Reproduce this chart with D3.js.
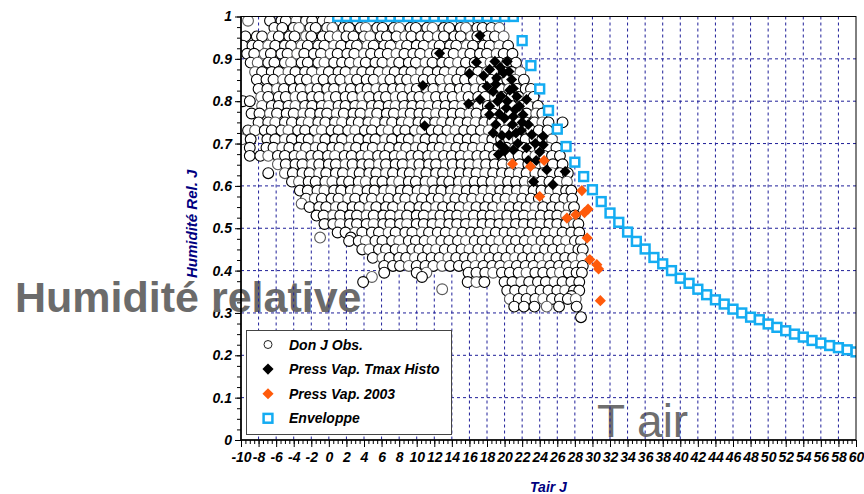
<!DOCTYPE html>
<html>
<head>
<meta charset="utf-8">
<script src="https://cdn.jsdelivr.net/npm/d3@7"></script>
<style>
  body { margin: 0; background: #fff; }
  svg { display: block; }
  .tick text { font-family: "Liberation Sans", Arial, sans-serif; font-weight: bold; font-style: italic; font-size: 14px; fill: #000; }
</style>
</head>
<body>
<div id="chart"></div>
<script>
// Don J Obs. : rows of [humidity, temperatures]
var obsRows = [
  [0.99, [-9.2,-6.7,-5.4,-4.9,-3.7,-2.6,-1.9,-0.7,0.1,1.3,1.9,3.2,3.9,4.7,5.9,6.6,7.9,8.5,9.8,10.4,11.7,12.2,13.6,14.3,15.1,16.4,17.0,18.3,19.0]],
  [0.973, [-6.2,-5.3,-4.0,-3.4,-2.1,-1.5,-0.2,0.4,1.7,2.3,3.6,4.2,5.5,6.1,7.4,8.0,9.3,9.9,11.2,11.8,13.1,13.7,15.0,15.6,16.9,17.5,18.5,19.4]],
  [0.953, [-9.5,-8.2,-7.6,-6.4,-5.7,-4.5,-3.9,-2.6,-2.0,-0.7,0.1,1.0,2.0,2.8,4.0,4.7,5.9,6.6,7.7,8.7,9.4,10.5,11.3,12.4,13.1,14.3,15.0,16.2,16.9,18.1,18.9,19.9]],
  [0.931, [-9.8,-8.7,-8.0,-6.9,-6.1,-5.0,-4.3,-3.1,-2.4,-1.2,-0.5,0.6,1.4,2.5,3.2,4.4,5.1,6.3,7.0,8.2,8.9,10.0,10.8,11.9,12.6,13.8,14.5,15.7,16.4,17.6,18.3,19.4,20.4]],
  [0.912, [-9.3,-8.5,-7.3,-6.6,-5.4,-4.7,-3.6,-2.8,-1.7,-0.9,0.2,1.0,2.1,2.9,4.0,4.8,5.8,6.7,7.7,8.6,9.6,10.4,11.5,12.3,13.4,14.2,15.3,16.1,17.2,18.0,19.1,19.9,20.9]],
  [0.891, [-8.9,-8.1,-6.9,-6.2,-5.0,-4.3,-3.1,-2.4,-1.2,-0.5,0.6,1.5,2.4,3.4,4.2,5.3,6.1,7.2,8.0,9.1,9.9,11.0,11.8,12.9,13.7,14.7,15.6,16.6,17.5,18.4,19.4,20.3,21.3]],
  [0.869, [-8.4,-7.6,-6.5,-5.7,-4.6,-3.8,-2.7,-1.9,-0.8,0.0,1.1,1.9,3.0,3.8,4.8,5.7,6.7,7.5,8.6,9.4,10.5,11.3,12.4,13.2,14.2,15.1,16.1,17.0,18.0,18.9,19.9,20.8,21.8]],
  [0.851, [-8.2,-7.1,-6.3,-5.2,-4.4,-3.3,-2.5,-1.4,-0.6,0.5,1.3,2.4,3.2,4.3,5.1,6.2,7.0,8.1,8.9,9.9,10.8,11.8,12.7,13.7,14.6,15.5,16.5,17.4,18.4,19.3,20.3,21.2,22.2]],
  [0.829, [-8.0,-7.0,-5.9,-5.1,-4.0,-3.2,-2.1,-1.3,-0.2,0.6,1.7,2.5,3.6,4.4,5.4,6.3,7.3,8.2,9.2,10.0,11.1,11.9,13.0,13.8,14.9,15.7,16.7,17.6,18.6,19.5,20.5,21.4,22.4,23.0]],
  [0.81, [-7.7,-6.9,-5.7,-4.9,-3.8,-3.0,-1.9,-1.1,0.0,0.8,1.9,2.7,3.8,4.6,5.7,6.5,7.6,8.4,9.5,10.3,11.3,12.2,13.2,14.1,15.1,15.9,17.0,17.8,18.9,19.7,20.8,21.6,22.7,23.3]],
  [0.80, [-9.8,-9.0]],
  [0.789, [-7.6,-6.5,-5.7,-4.6,-3.8,-2.7,-1.9,-0.8,0.0,1.1,1.9,3.0,3.8,4.9,5.7,6.8,7.6,8.6,9.5,10.5,11.4,12.4,13.3,14.3,15.2,16.2,17.0,18.1,18.9,20.0,20.8,21.9,22.7,23.8]],
  [0.771, [-8.8,-7.9,-6.7,-5.9,-4.8,-4.0,-2.9,-2.1,-1.0,-0.2,0.9,1.7,2.8,3.6,4.7,5.5,6.6,7.4,8.5,9.3,10.3,11.2,12.2,13.1,14.1,15.0,16.0,16.8,17.9,18.7,19.8,20.6,21.7,22.5,23.6,24.3]],
  [0.75, [-8.0,-6.9,-6.1,-5.0,-4.2,-3.1,-2.3,-1.2,-0.4,0.7,1.5,2.6,3.4,4.5,5.3,6.4,7.2,8.3,9.1,10.2,11.0,12.1,12.9,13.9,14.8,15.8,16.7,17.7,18.6,19.6,20.5,21.5,22.4,23.4,24.3,25.0,26.6]],
  [0.731, [-9.2,-8.4,-7.3,-6.5,-5.4,-4.6,-3.5,-2.7,-1.6,-0.8,0.3,1.1,2.2,3.0,4.1,4.9,6.0,6.8,7.9,8.7,9.8,10.6,11.7,12.5,13.5,14.4,15.4,16.3,17.3,18.2,19.2,20.1,21.1,22.0,23.0,23.9,24.9]],
  [0.71, [-9.9,-8.9,-7.0,-6.1,-5.0,-4.2,-3.1,-2.3,-1.2,-0.4,0.7,1.5,2.6,3.4,4.5,5.3,6.4,7.2,8.3,9.1,10.2,11.0,12.0,12.9,13.9,14.8,15.8,16.7,17.7,18.6,19.6,20.5,21.5,22.4,23.4,24.3,25.4]],
  [0.69, [-9.0,-7.1,-6.3,-5.3,-4.5,-3.4,-2.6,-1.5,-0.7,0.4,1.2,2.3,3.1,4.2,5.0,6.1,6.9,8.0,8.8,9.9,10.7,11.8,12.6,13.6,14.5,15.5,16.4,17.4,18.3,19.3,20.2,21.2,22.1,23.1,24.0,25.0,25.9]],
  [0.671, [-9.0,-7.8,-6.9,-5.8,-5.0,-3.9,-3.1,-2.0,-1.2,-0.1,0.7,1.8,2.6,3.7,4.5,5.6,6.4,7.5,8.3,9.4,10.2,11.3,12.1,13.1,14.0,15.0,15.9,16.9,17.8,18.8,19.7,20.7,21.6,22.6,23.5,24.5,25.4,26.3]],
  [0.651, [-5.8,-4.9,-3.8,-3.0,-1.9,-1.1,0.0,0.8,1.9,2.7,3.8,4.6,5.7,6.5,7.6,8.4,9.5,10.3,11.4,12.2,13.3,14.1,15.1,16.0,17.0,17.9,18.9,19.8,20.8,21.7,22.7,23.6,24.6,25.5,26.6]],
  [0.63, [-6.9,-5.0,-4.1,-3.0,-2.2,-1.1,-0.3,0.8,1.6,2.7,3.5,4.6,5.4,6.5,7.3,8.4,9.2,10.3,11.1,12.2,13.0,14.1,14.9,15.9,16.8,17.8,18.7,19.7,20.6,21.6,22.5,23.5,24.4,25.4,26.3,27.2]],
  [0.61, [-4.2,-3.4,-2.3,-1.5,-0.4,0.4,1.5,2.3,3.4,4.2,5.3,6.1,7.2,8.0,9.1,9.9,11.0,11.8,12.9,13.7,14.8,15.6,16.6,17.5,18.5,19.4,20.4,21.3,22.3,23.2,24.2,25.1,26.1,27.1]],
  [0.589, [-3.3,-2.4,-1.3,-0.5,0.6,1.4,2.5,3.3,4.4,5.2,6.3,7.1,8.2,9.0,10.1,10.9,12.0,12.8,13.9,14.7,15.7,16.6,17.6,18.5,19.5,20.4,21.4,22.3,23.3,24.2,25.2,26.1,27.0,27.6]],
  [0.57, [-2.6,-1.6,-0.8,0.3,1.1,2.2,3.0,4.1,4.9,6.0,6.8,7.9,8.7,9.8,10.6,11.7,12.5,13.6,14.4,15.4,16.3,17.3,18.2,19.2,20.1,21.1,22.0,23.0,23.9,24.9,25.8,26.8,27.7]],
  [0.558, [-3.1]],
  [0.55, [-2.2,-1.1,-0.3,0.8,1.6,2.7,3.5,4.6,5.4,6.5,7.3,8.4,9.2,10.3,11.1,12.2,13.0,14.0,14.9,15.9,16.8,17.8,18.7,19.7,20.6,21.6,22.5,23.5,24.4,25.4,26.3,27.3,27.9]],
  [0.53, [-1.4,-0.6,0.5,1.3,2.4,3.2,4.3,5.1,6.2,7.0,8.1,8.9,10.0,10.8,11.9,12.7,13.7,14.6,15.6,16.5,17.5,18.4,19.4,20.3,21.3,22.2,23.2,24.1,25.1,26.0,27.0,28.0]],
  [0.51, [-0.5,0.5,1.3,2.4,3.2,4.3,5.1,6.2,7.0,8.1,8.9,10.0,10.8,11.8,12.7,13.7,14.6,15.6,16.5,17.5,18.4,19.4,20.3,21.3,22.2,23.2,24.1,25.1,26.0,27.0,27.9,28.4]],
  [0.49, [1.0,1.9,3.0,3.8,4.9,5.7,6.8,7.6,8.7,9.5,10.6,11.4,12.4,13.3,14.3,15.2,16.2,17.1,18.1,19.0,20.0,20.9,21.9,22.8,23.8,24.7,25.7,26.6,27.6,28.5]],
  [0.478, [-1.0,2.5]],
  [0.47, [2.3,3.4,4.2,5.3,6.1,7.2,8.0,9.1,9.9,10.9,11.8,12.8,13.7,14.7,15.6,16.6,17.5,18.5,19.4,20.4,21.3,22.3,23.2,24.2,25.1,26.1,27.0,28.0,28.7]],
  [0.45, [3.8,4.6,5.7,6.5,7.6,8.4,9.5,10.3,11.3,12.2,13.2,14.1,15.1,16.0,17.0,17.9,18.9,19.8,20.8,21.7,22.7,23.6,24.6,25.5,26.5,27.4,28.4,28.9]],
  [0.43, [5.0,6.1,6.9,8.0,8.8,9.8,10.7,11.7,12.6,13.6,14.5,15.5,16.4,17.4,18.3,19.3,20.2,21.2,22.1,23.1,24.0,25.0,25.9,26.9,27.8,28.8]],
  [0.411, [6.3,7.3,8.1,9.1,10.0,11.0,11.9,12.9,13.8,14.8,15.7,16.7,17.6,18.6,19.5,20.5,21.4,22.4,23.3,24.3,25.2,26.2,27.1,28.1,28.9]],
  [0.395, [6.3,10.0,11.1,15.9,16.8,17.8,18.7,19.7,20.6,21.6,22.5,23.5,24.4,25.4,26.3,27.3,28.2,28.8]],
  [0.385, [4.9,10.6]],
  [0.373, [3.9,15.8,16.8,17.7,20.0,20.9,21.9,22.8,23.8,24.7,25.7,26.6,27.6,28.5]],
  [0.356, [12.9]],
  [0.353, [20.3,21.2,22.2,23.1,24.1,25.0,26.0,26.9,27.9,28.5]],
  [0.34, [27.6]],
  [0.333, [20.6,21.6,22.5,23.5,24.4,25.4,26.3,27.2,28.1]],
  [0.315, [21.1,22.2,23.4,24.8,26.2,28.2]],
  [0.29, [28.7]]
];

// Press Vap. Tmax Histo
var histoT = [17.2,12.6,16.8,18.9,20.3,18.3,16.0,19.1,20.8,10.7,18.0,18.7,21.4,17.2,22.5,15.9,18.3,20.2,21.7,18.3,20.0,21.0,22.1,22.7,10.9,18.7,19.7,21.9,23.1,24.4,19.5,20.0,22.5,24.4,19.3,20.0,24.8,26.9,23.3,25.5,19.6,20.6,19.2,20.9,21.5,23.6,17.6,19.9,
              19.5,20.5,21.0,19.0,20.3,21.2,19.4,22.0,19.0,20.5,21.3,23.5,21.0,22.7,24.0];
var histoH = [0.955,0.913,0.892,0.894,0.894,0.875,0.865,0.855,0.851,0.837,0.835,0.823,0.811,0.804,0.804,0.794,0.788,0.784,0.788,0.768,0.760,0.764,0.768,0.745,0.742,0.725,0.719,0.731,0.721,0.717,0.697,0.690,0.690,0.697,0.674,0.682,0.638,0.634,0.610,0.603,0.812,0.826,0.800,0.745,0.700,0.660,0.860,0.867,
              0.880,0.870,0.830,0.840,0.800,0.780,0.770,0.750,0.745,0.720,0.725,0.700,0.685,0.660,0.680];

// Press Vap. 2003
var vap03T = [20.9,22.95,24.5,24.0,28.8,27.1,28.1,29.1,29.5,29.4,29.7,30.5,30.7,30.9];
var vap03H = [0.652,0.646,0.660,0.575,0.589,0.524,0.532,0.537,0.545,0.477,0.426,0.414,0.404,0.329];

// Enveloppe
var envT = [1,2,3,4,5,6,7,8,9,10,11,12,13,14,15,16,17,18,19,20,21,22,23,24,25,26,27,28,29,30,31,32,33,34,35,36,37,38,39,40,41,42,43,44,45,46,47,48,49,50,51,52,53,54,55,56,57,58,59,60];
var envH = [1,1,1,1,1,1,1,1,1,1,1,1,1,1,1,1,1,1,1,1,1,0.943,0.884,0.829,0.778,0.734,0.693,0.656,0.622,0.591,0.563,0.536,0.514,0.491,0.469,0.451,0.431,0.416,0.400,0.382,0.370,0.356,0.343,0.331,0.321,0.309,0.300,0.290,0.284,0.274,0.266,0.258,0.250,0.243,0.235,0.229,0.223,0.218,0.213,0.208];

var xTickValues = [-10,-8,-6,-4,-2,0,2,4,6,8,10,12,14,16,18,20,22,24,26,28,30,32,34,36,38,40,42,44,46,48,50,52,54,56,58,60];
var yTickValues = [0,0.1,0.2,0.3,0.4,0.5,0.6,0.7,0.8,0.9,1];
var yTickLabels = ["0","0.1","0.2","0.3","0.4","0.5","0.6","0.7","0.8","0.9","1"];

var legendItems = ["Don J Obs.", "Press Vap. Tmax Histo", "Press Vap. 2003", "Enveloppe"];

var W = 864, H = 494,
    pLeft = 241, pRight = 856, pTop = 16.5, pBottom = 440;
var font = '"Liberation Sans", Arial, sans-serif';

var svg = d3.select("#chart").append("svg")
    .attr("width", W)
    .attr("height", H);

var x = d3.scaleLinear().domain([-10, 60]).range([pLeft, pRight]);
var y = d3.scaleLinear().domain([0, 1]).range([pBottom, pTop]);

svg.append("defs").append("clipPath").attr("id", "plot")
  .append("rect")
    .attr("x", pLeft).attr("y", pTop)
    .attr("width", pRight - pLeft).attr("height", pBottom - pTop);

// axes with labels
svg.append("g")
    .attr("transform", "translate(0," + pBottom + ")")
    .call(d3.axisBottom(x).tickValues(xTickValues).tickSize(7).tickPadding(5).tickSizeOuter(0)
      .tickFormat(function(d) { return String(d); }))
    .call(function(g) { g.select(".domain").remove(); });

svg.append("g")
    .attr("transform", "translate(0," + pBottom + ")")
    .call(d3.axisBottom(x).tickValues(d3.range(-10, 60.01, 0.5)).tickSize(4).tickFormat("").tickSizeOuter(0))
    .call(function(g) { g.select(".domain").remove(); });

svg.append("g")
    .attr("transform", "translate(" + pLeft + ",0)")
    .call(d3.axisLeft(y).tickValues(yTickValues).tickSize(6).tickPadding(3).tickSizeOuter(0)
      .tickFormat(function(d, i) { return yTickLabels[i]; }))
    .call(function(g) { g.select(".domain").remove(); });

svg.append("g")
    .attr("transform", "translate(" + pLeft + ",0)")
    .call(d3.axisLeft(y).tickValues(d3.range(0, 1.001, 0.025)).tickSize(4).tickFormat("").tickSizeOuter(0))
    .call(function(g) { g.select(".domain").remove(); });

// big grey overlay texts
svg.append("text")
    .attr("x", 15).attr("y", 312)
    .attr("font-family", font).attr("font-weight", "bold")
    .attr("font-size", 43).attr("fill", "#6b6b6b")
    .text("Humidité relative");

svg.append("text")
    .attr("x", 597).attr("y", 437)
    .attr("font-family", font)
    .attr("font-size", 46).attr("fill", "#6e6e6e")
    .text("T air");

// grid
var grid = svg.append("g")
    .attr("stroke", "#1f1f99")
    .attr("stroke-width", 1)
    .attr("stroke-dasharray", "3,3");

grid.selectAll("line.v")
  .data(xTickValues.filter(function(d) { return d > -10 && d < 60; }))
  .enter().append("line")
    .attr("class", "v")
    .attr("x1", function(d) { return x(d); }).attr("x2", function(d) { return x(d); })
    .attr("y1", pTop).attr("y2", pBottom);

grid.selectAll("line.h")
  .data(yTickValues.filter(function(d) { return d > 0 && d < 1; }))
  .enter().append("line")
    .attr("class", "h")
    .attr("x1", pLeft).attr("x2", pRight)
    .attr("y1", function(d) { return y(d); }).attr("y2", function(d) { return y(d); });

// observations
var obs = [];
obsRows.forEach(function(r) {
  r[1].forEach(function(t) { obs.push({t: t, h: r[0]}); });
});

var plot = svg.append("g").attr("clip-path", "url(#plot)");

plot.append("g")
  .selectAll("circle")
  .data(obs)
  .enter().append("circle")
    .attr("cx", function(d) { return x(d.t); })
    .attr("cy", function(d) { return y(d.h); })
    .attr("r", 5.4)
    .attr("fill", "#fff")
    .attr("stroke", function(d, i) { return i % 4 === 0 ? "#5a5a5a" : "#000"; })
    .attr("stroke-width", 1.1);

var diamond = d3.symbol().type(d3.symbolSquare).size(62);

plot.append("g")
  .selectAll("path")
  .data(histoT)
  .enter().append("path")
    .attr("d", diamond)
    .attr("transform", function(d, i) { return "translate(" + x(d) + "," + y(histoH[i]) + ") rotate(45)"; })
    .attr("fill", "#000");

plot.append("g")
  .selectAll("path")
  .data(vap03T)
  .enter().append("path")
    .attr("d", diamond)
    .attr("transform", function(d, i) { return "translate(" + x(d) + "," + y(vap03H[i]) + ") rotate(45)"; })
    .attr("fill", "#ff5a0a");

plot.append("g")
  .selectAll("rect")
  .data(envT)
  .enter().append("rect")
    .attr("x", function(d) { return x(d) - 4.4; })
    .attr("y", function(d, i) { return y(envH[i]) - 4.4; })
    .attr("width", 8.8).attr("height", 8.8)
    .attr("fill", "#fff")
    .attr("stroke", "#14acf2")
    .attr("stroke-width", 2.5);

// frame and axis lines
svg.append("rect")
    .attr("x", pLeft).attr("y", pTop)
    .attr("width", pRight - pLeft).attr("height", pBottom - pTop)
    .attr("fill", "none").attr("stroke", "#000").attr("stroke-width", 1);
svg.append("line")
    .attr("x1", pLeft).attr("x2", pLeft).attr("y1", pTop).attr("y2", pBottom + 0.75)
    .attr("stroke", "#000").attr("stroke-width", 1.6);
svg.append("line")
    .attr("x1", pLeft).attr("x2", pRight).attr("y1", pBottom).attr("y2", pBottom)
    .attr("stroke", "#000").attr("stroke-width", 1.6);

// axis titles
svg.append("text")
    .attr("x", (pLeft + pRight) / 2).attr("y", 492)
    .attr("text-anchor", "middle")
    .attr("font-family", font).attr("font-weight", "bold").attr("font-style", "italic")
    .attr("font-size", 14).attr("fill", "#000080")
    .text("Tair J");

svg.append("text")
    .attr("transform", "translate(197,278) rotate(-90)")
    .attr("text-anchor", "start")
    .attr("font-family", font).attr("font-weight", "bold").attr("font-style", "italic")
    .attr("font-size", 15).attr("fill", "#000080")
    .text("Humidité Rel. J");

// legend
var legend = svg.append("g");

legend.append("rect")
    .attr("x", 246.5).attr("y", 330.5)
    .attr("width", 205).attr("height", 104)
    .attr("fill", "#fff").attr("stroke", "#444").attr("stroke-width", 1);

var item = legend.selectAll("g.item")
  .data(legendItems)
  .enter().append("g")
    .attr("class", "item")
    .attr("transform", function(d, i) { return "translate(268," + (344.5 + i * 24.6) + ")"; });

item.append("text")
    .attr("x", 21).attr("y", 5)
    .attr("font-family", font).attr("font-weight", "bold").attr("font-style", "italic")
    .attr("font-size", 14).attr("fill", "#000")
    .text(function(d) { return d; });

item.filter(function(d, i) { return i === 0; }).append("circle")
    .attr("r", 4).attr("fill", "#fff").attr("stroke", "#222");
item.filter(function(d, i) { return i === 1; }).append("path")
    .attr("d", diamond).attr("transform", "rotate(45)").attr("fill", "#000");
item.filter(function(d, i) { return i === 2; }).append("path")
    .attr("d", diamond).attr("transform", "rotate(45)").attr("fill", "#ff5a0a");
item.filter(function(d, i) { return i === 3; }).append("rect")
    .attr("x", -4.4).attr("y", -4.4).attr("width", 8.8).attr("height", 8.8)
    .attr("fill", "#fff").attr("stroke", "#14acf2").attr("stroke-width", 2.5);
</script>
</body>
</html>
